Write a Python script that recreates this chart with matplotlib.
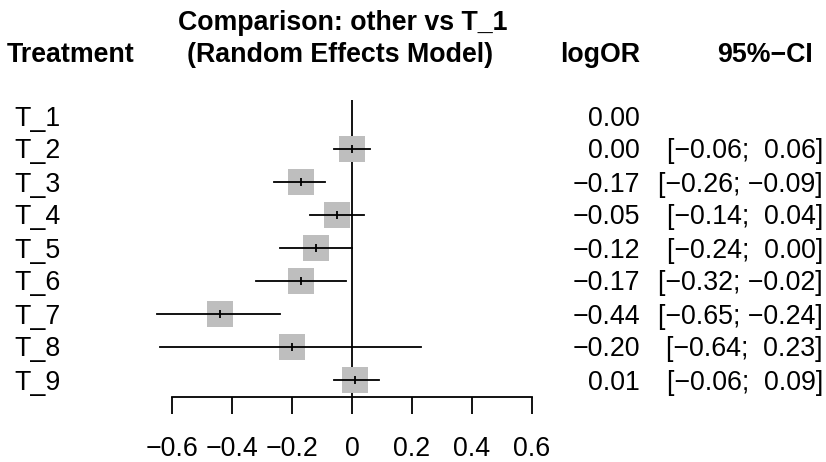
import matplotlib
matplotlib.use("Agg")
import matplotlib.pyplot as plt
import matplotlib.transforms as mtrans
import numpy as np

treatments = ["T_1", "T_2", "T_3", "T_4", "T_5", "T_6", "T_7", "T_8", "T_9"]
logor = [0.00, 0.00, -0.17, -0.05, -0.12, -0.17, -0.44, -0.20, 0.01]
lower = [np.nan, -0.06, -0.26, -0.14, -0.24, -0.32, -0.65, -0.64, -0.06]
upper = [np.nan, 0.06, -0.09, 0.04, 0.00, -0.02, -0.24, 0.23, 0.09]
xticks = [-0.6, -0.4, -0.2, 0, 0.2, 0.4, 0.6]
xticklabels = ["\u22120.6", "\u22120.4", "\u22120.2", "0", "0.2", "0.4", "0.6"]

plt.rcParams['font.family'] = ['Liberation Sans', 'DejaVu Sans']
FS = 19.3

W, H = 826, 462
fig = plt.figure(figsize=(W / 100, H / 100), dpi=100)

# forest axes: x from px 172..532, y from px 99.5..396.5
ax = fig.add_axes([172 / W, (H - 396.5) / H, 360 / W, 297 / H])
n = len(treatments)
ax.set_xlim(-0.6, 0.6)
ax.set_ylim(n - 0.5, -0.5)
for s in ["top", "right", "left"]:
    ax.spines[s].set_visible(False)
ax.spines["bottom"].set_linewidth(1.3)
ax.set_yticks([])
ax.set_xticks(xticks)
ax.set_xticklabels(xticklabels, fontsize=FS)
ax.tick_params(axis="x", direction="out", length=12.2, width=1.3, pad=30.5)
for lab in ax.get_xticklabels():
    lab.set_va("baseline")

def fmt(v):
    return f"{v:.2f}".replace("-", "\u2212")

tr = mtrans.blended_transform_factory(fig.transFigure, ax.transData)
dy = 9.5 / 33  # baseline offset of row text below row centre

ax.axvline(0, color="black", lw=1.3, zorder=1)
for i, (t, m, lo, hi) in enumerate(zip(treatments, logor, lower, upper)):
    if not np.isnan(lo):
        ax.plot([m], [i], marker="s", markersize=18.3, color="#BEBEBE",
                markeredgewidth=0, zorder=2, clip_on=False)
        ax.plot([lo, hi], [i, i], color="black", lw=1.3, zorder=3, clip_on=False)
        ax.plot([m], [i], marker="|", markersize=6, color="black",
                markeredgewidth=1.3, zorder=4, clip_on=False)
    ax.text(14 / W, i + dy, t, transform=tr, ha="left", va="baseline", fontsize=FS)
    ax.text(640 / W, i + dy, fmt(m), transform=tr, ha="right", va="baseline", fontsize=FS)
    if not np.isnan(lo):
        ci = "[" + fmt(lo) + "; " + ("" if hi < 0 else " ") + fmt(hi) + "]"
        ax.text(823 / W, i + dy, ci, transform=tr, ha="right", va="baseline", fontsize=FS)

# headers
fig.text(7 / W, 1 - 61.5 / H, "Treatment", ha="left", va="baseline", fontsize=FS, fontweight="bold")
fig.text(343 / W, 1 - 29.5 / H, "Comparison: other vs T_1", ha="center", va="baseline", fontsize=FS, fontweight="bold")
fig.text(340 / W, 1 - 61.5 / H, "(Random Effects Model)", ha="center", va="baseline", fontsize=FS, fontweight="bold")
fig.text(640 / W, 1 - 61.5 / H, "logOR", ha="right", va="baseline", fontsize=FS, fontweight="bold")
fig.text(813 / W, 1 - 61.5 / H, "95%\u2212CI", ha="right", va="baseline", fontsize=FS, fontweight="bold")

fig.savefig("out.png", dpi=100)
